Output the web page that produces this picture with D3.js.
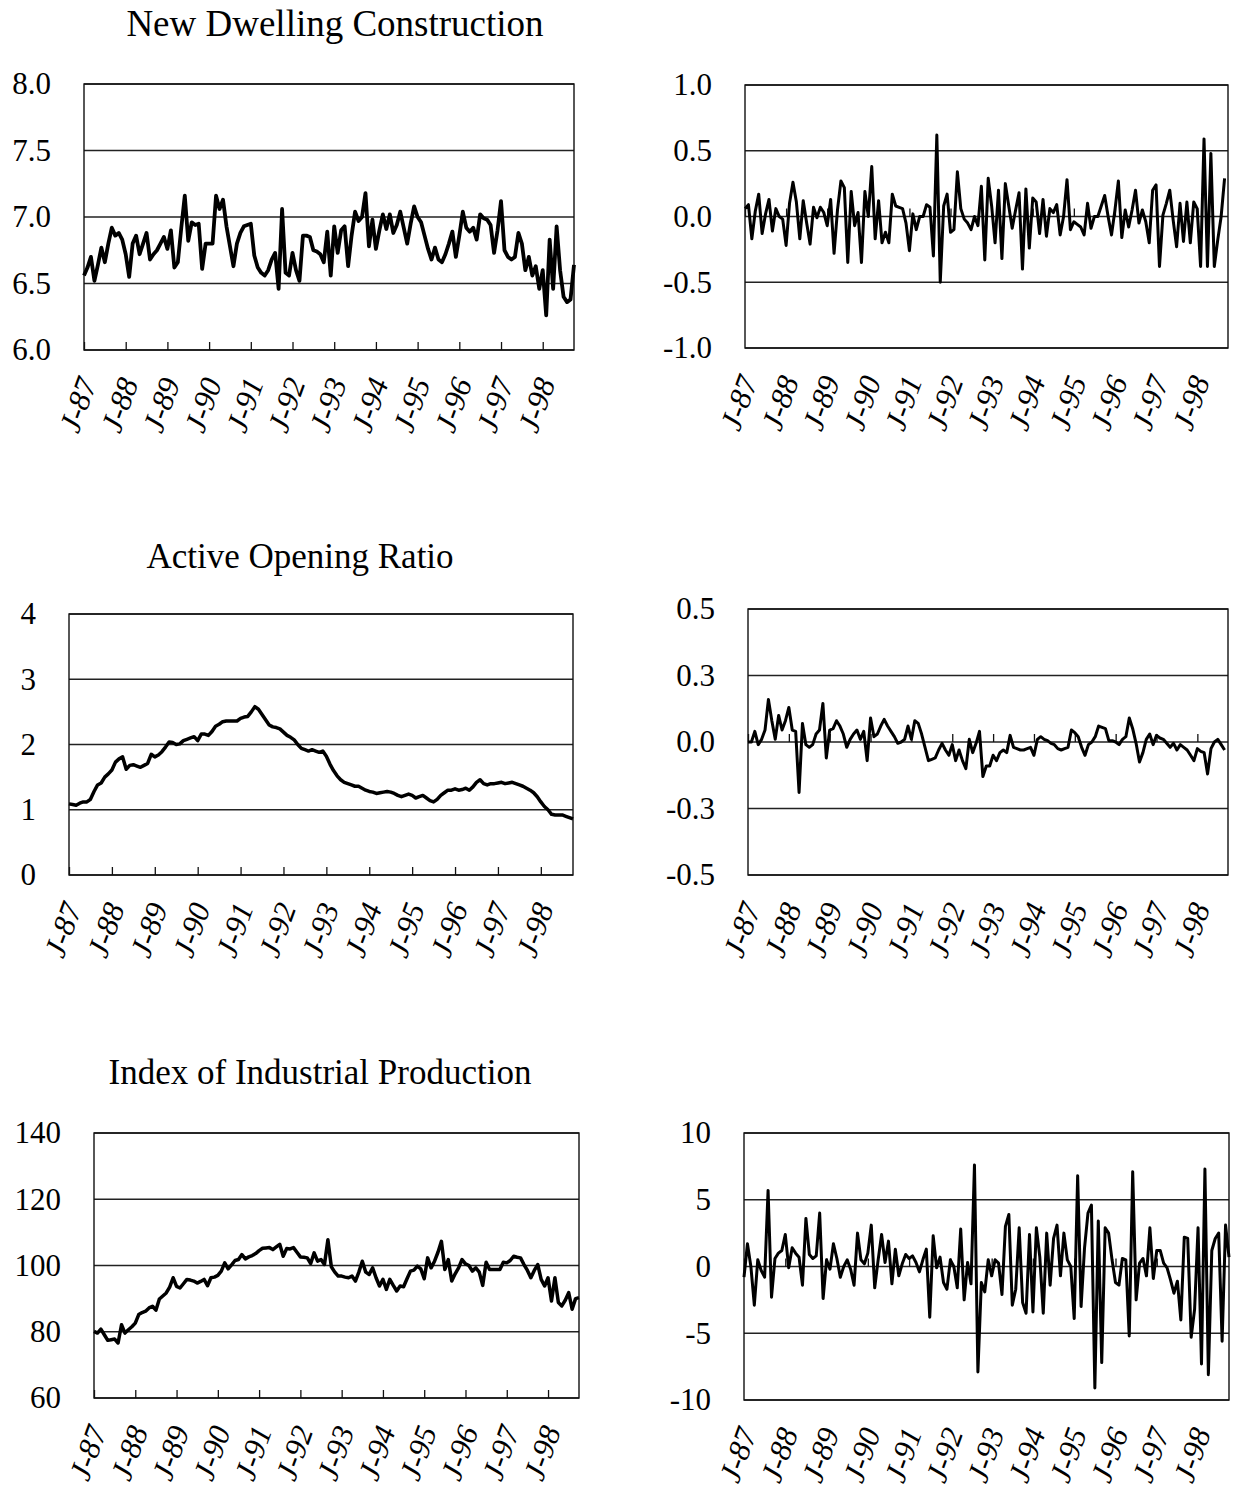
<!DOCTYPE html>
<html>
<head>
<meta charset="utf-8">
<script src="https://cdn.jsdelivr.net/npm/d3@7"></script>
<style>
  body { margin: 0; background: #fff; }
  text { font-family: "Liberation Serif", "Times New Roman", serif; fill: #000; }
</style>
</head>
<body>
<svg id="chart" width="1235" height="1490"></svg>
<script>
// January of each year, month index from Jan-87
const yearLabels = ["J-87", "J-88", "J-89", "J-90", "J-91", "J-92", "J-93", "J-94", "J-95", "J-96", "J-97", "J-98"];
const yearMonths = [0, 12, 24, 36, 48, 60, 72, 84, 96, 108, 120, 132];

// monthly series
const dwelling = [
  6.56, 6.62, 6.70, 6.52, 6.64, 6.77, 6.66, 6.80, 6.92, 6.86, 6.88, 6.83,
  6.72, 6.55, 6.80, 6.86, 6.72, 6.80, 6.88, 6.68, 6.72, 6.75, 6.80, 6.85,
  6.76, 6.90, 6.62, 6.66, 6.92, 7.16, 6.82, 6.96, 6.94, 6.95, 6.61, 6.80,
  6.80, 6.80, 7.16, 7.06, 7.13, 6.93, 6.78, 6.63, 6.80, 6.88, 6.93, 6.94,
  6.95, 6.71, 6.62, 6.58, 6.56, 6.60, 6.68, 6.73, 6.46, 7.06, 6.58, 6.56,
  6.73, 6.60, 6.52, 6.86, 6.86, 6.85, 6.75, 6.74, 6.72, 6.66, 6.89, 6.56,
  6.93, 6.73, 6.90, 6.93, 6.63, 6.86, 7.04, 6.97, 7.00, 7.18, 6.78, 6.98,
  6.76, 6.90, 7.02, 6.91, 7.02, 6.88, 6.94, 7.04, 6.92, 6.80, 6.95, 7.08,
  7.00, 6.96, 6.86, 6.76, 6.68, 6.77, 6.68, 6.66, 6.72, 6.80, 6.89, 6.70,
  6.86, 7.04, 6.92, 6.89, 6.92, 6.83, 7.02, 6.99, 6.98, 6.94, 6.73, 6.90,
  7.12, 6.75, 6.70, 6.68, 6.70, 6.88, 6.80, 6.60, 6.70, 6.56, 6.63, 6.46,
  6.60, 6.26, 6.83, 6.46, 6.93, 6.60, 6.40, 6.36, 6.38, 6.64
];
const dwellingChange = [
  0.06, 0.09, -0.17, 0.04, 0.17, -0.13, 0.02, 0.13, -0.11, 0.06, 0.00, -0.02,
  -0.22, 0.10, 0.26, 0.11, -0.17, 0.12, -0.05, -0.21, 0.07, -0.01, 0.07, 0.03,
  -0.07, 0.13, -0.28, 0.05, 0.27, 0.22, -0.35, 0.19, -0.07, 0.03, -0.35, 0.19,
  0.00, 0.38, -0.17, 0.12, -0.20, -0.12, -0.20, 0.17, 0.08, 0.07, 0.06, -0.05,
  -0.26, 0.02, -0.10, 0.00, 0.00, 0.09, 0.07, -0.30, 0.62, -0.50, 0.08, 0.17,
  -0.12, -0.10, 0.34, 0.06, -0.02, -0.05, -0.10, 0.00, -0.07, 0.23, -0.33, 0.29,
  0.08, -0.20, 0.20, -0.32, 0.25, 0.08, -0.09, 0.05, 0.18, -0.40, 0.21, -0.24,
  0.14, 0.11, -0.13, 0.13, -0.15, 0.06, 0.03, 0.09, -0.14, 0.00, 0.28, -0.10,
  -0.04, -0.06, -0.08, -0.14, 0.10, -0.09, 0.00, 0.00, 0.08, 0.16, 0.00, -0.14,
  0.05, 0.27, -0.16, 0.05, -0.08, 0.05, 0.20, -0.05, 0.05, -0.04, -0.20, 0.20,
  0.24, -0.38, 0.01, 0.10, 0.20, -0.03, -0.23, 0.10, -0.19, 0.11, -0.20, 0.11,
  0.06, -0.38, 0.59, -0.38, 0.48, -0.38, -0.18, 0.00, 0.29
];
const openingRatio = [
  1.09, 1.08, 1.07, 1.10, 1.12, 1.12, 1.16, 1.28, 1.38, 1.41, 1.50, 1.55,
  1.61, 1.73, 1.78, 1.81, 1.62, 1.68, 1.69, 1.67, 1.65, 1.68, 1.71, 1.85,
  1.81, 1.84, 1.89, 1.96, 2.04, 2.03, 2.00, 2.01, 2.06, 2.08, 2.10, 2.12,
  2.06, 2.16, 2.16, 2.14, 2.20, 2.28, 2.31, 2.35, 2.36, 2.36, 2.36, 2.36,
  2.40, 2.42, 2.43, 2.50, 2.58, 2.54, 2.46, 2.38, 2.30, 2.27, 2.26, 2.24,
  2.19, 2.14, 2.11, 2.07, 2.00, 1.94, 1.92, 1.90, 1.92, 1.90, 1.88, 1.90,
  1.82, 1.70, 1.60, 1.52, 1.46, 1.42, 1.40, 1.38, 1.36, 1.36, 1.33, 1.30,
  1.28, 1.27, 1.25, 1.26, 1.27, 1.28, 1.27, 1.25, 1.22, 1.20, 1.22, 1.24,
  1.22, 1.18, 1.20, 1.22, 1.18, 1.14, 1.12, 1.16, 1.22, 1.26, 1.30, 1.30,
  1.32, 1.30, 1.31, 1.33, 1.30, 1.35, 1.42, 1.46, 1.40, 1.38, 1.40, 1.40,
  1.41, 1.42, 1.40, 1.41, 1.42, 1.40, 1.38, 1.36, 1.33, 1.30, 1.26, 1.20,
  1.12, 1.05, 1.00, 0.93, 0.92, 0.92, 0.92, 0.90, 0.88, 0.86
];
const openingRatioChange = [
  0.00, 0.00, 0.04, -0.01, 0.01, 0.045, 0.16, 0.08, 0.01, 0.10, 0.045, 0.08,
  0.13, 0.045, 0.04, -0.19, 0.07, -0.01, -0.02, -0.01, 0.03, 0.045, 0.145, -0.06,
  0.045, 0.05, 0.08, 0.06, 0.03, -0.02, 0.01, 0.03, 0.045, 0.01, 0.04, -0.07,
  0.09, 0.02, 0.03, 0.06, 0.085, 0.06, 0.04, 0.02, -0.005, 0.00, 0.01, 0.06,
  0.01, 0.08, 0.07, 0.03, -0.02, -0.07, -0.065, -0.06, -0.03, -0.005, -0.03, -0.05,
  -0.01, -0.07, -0.03, -0.07, -0.10, 0.01, -0.04, -0.005, 0.04, -0.13, -0.09, -0.09,
  -0.05, -0.07, -0.04, -0.03, -0.04, 0.025, -0.02, -0.025, -0.03, -0.03, -0.025, -0.02,
  -0.05, 0.01, 0.02, 0.01, 0.005, -0.005, -0.01, -0.025, -0.03, -0.025, -0.02, 0.045,
  0.035, 0.02, -0.02, -0.05, -0.01, 0.00, 0.02, 0.06, 0.055, 0.05, 0.005, 0.005,
  0.00, -0.01, 0.01, 0.02, 0.09, 0.05, -0.005, -0.075, -0.04, 0.01, 0.03, -0.01,
  0.025, 0.015, 0.01, -0.005, -0.02, -0.005, -0.03, -0.01, -0.02, -0.03, -0.05, -0.07,
  -0.025, -0.035, -0.04, -0.12, -0.025, 0.00, 0.01, -0.01, -0.03
];
const industrial = [
  80.1, 79.6, 80.8, 79.1, 77.4, 77.6, 77.8, 76.6, 82.1, 79.6, 80.6, 81.5,
  82.6, 85.2, 85.8, 86.2, 87.2, 87.7, 86.5, 89.9, 90.8, 91.7, 93.5, 96.3,
  93.7, 93.2, 94.5, 95.8, 95.6, 95.3, 94.7, 95.2, 95.8, 93.9, 96.3, 96.5,
  97.0, 98.3, 100.8, 99.0, 100.2, 101.5, 101.8, 103.3, 102.0, 102.6, 103.0, 103.6,
  104.5, 105.2, 105.3, 105.4, 104.8, 105.6, 106.4, 102.8, 105.1, 105.0, 105.4, 104.0,
  102.6, 102.5, 102.3, 100.6, 103.8, 101.3, 101.8, 100.3, 107.8, 99.6, 98.0, 96.8,
  96.8, 96.5, 96.3, 96.8, 95.3, 98.0, 101.3, 98.0, 97.3, 99.3, 96.3, 93.8,
  95.8, 92.8, 95.8, 94.0, 92.3, 93.8, 93.6, 96.0, 98.3, 98.6, 99.8, 99.0,
  96.0, 102.3, 99.3, 101.3, 104.0, 107.3, 98.8, 101.8, 95.3, 97.5, 99.3, 101.8,
  100.5, 100.0, 98.3, 99.3, 98.0, 94.0, 101.0, 98.8, 98.8, 98.8, 98.8, 101.0,
  100.8, 101.5, 102.8, 102.5, 102.3, 100.3, 98.5, 96.3, 98.5, 100.3, 95.8, 93.8,
  96.3, 89.3, 96.3, 88.8, 87.8, 89.5, 91.8, 86.8, 90.0, 90.3
];
const industrialChange = [
  -0.8, 1.7, 0.0, -2.9, 0.5, -0.3, -0.8, 5.7, -2.3, 0.6, 1.0, 1.2,
  2.4, -0.1, 1.4, 1.0, 0.7, -1.4, 3.6, 0.9, 0.6, 0.8, 4.0, -2.4,
  0.5, -0.2, 1.7, 0.6, -0.8, 0.0, 0.5, -0.2, -1.4, 2.5, 0.5, 0.2,
  1.0, 3.1, -1.6, 0.5, 2.4, 0.3, 1.9, -1.3, 1.3, -0.7, 0.2, 0.9,
  0.6, 0.8, 0.3, -0.4, 0.5, 1.3, -3.8, 2.3, -0.1, 0.7, -1.2, -1.7,
  0.5, 0.0, -1.6, 2.8, -2.5, 0.3, -1.3, 7.6, -7.9, -1.2, -1.9, 0.5,
  -0.7, 0.5, 0.25, -2.1, 3.0, 3.9, -2.9, -1.7, 2.9, -2.7, -3.5, 2.4,
  -3.4, 2.9, 0.7, -3.5, 2.5, -1.4, 2.1, 3.1, -0.7, 2.5, 0.5, 0.0,
  -3.9, 6.8, -3.0, 1.4, 4.0, 4.6, -9.1, 3.4, -7.2, 2.9, 2.5, 0.5,
  -1.2, -1.4, 0.6, 0.5, -5.2, 7.1, -2.5, 0.25, 0.6, -0.7, 2.9, -0.9,
  1.2, 1.2, 0.25, -0.1, -1.0, -2.0, -1.1, -4.0, 2.2, 2.1, -5.3, -3.2,
  2.9, -7.3, 7.3, -8.1, 1.2, 2.1, 2.5, -5.6, 3.1, 0.7
];

// value-axis ticks and their printed labels
const dwellingTicks = [6, 6.5, 7, 7.5, 8];
const dwellingLabels = ["6.0", "6.5", "7.0", "7.5", "8.0"];
const dwellingChangeTicks = [-1, -0.5, 0, 0.5, 1];
const dwellingChangeLabels = ["-1.0", "-0.5", "0.0", "0.5", "1.0"];
const ratioTicks = [0, 1, 2, 3, 4];
const ratioLabels = ["0", "1", "2", "3", "4"];
const ratioChangeTicks = [-0.5, -0.25, 0, 0.25, 0.5];
const ratioChangeLabels = ["-0.5", "-0.3", "0.0", "0.3", "0.5"];
const industrialTicks = [60, 80, 100, 120, 140];
const industrialLabels = ["60", "80", "100", "120", "140"];
const industrialChangeTicks = [-10, -5, 0, 5, 10];
const industrialChangeLabels = ["-10", "-5", "0", "5", "10"];

const svg = d3.select("#chart");

const panels = [
  { title: "New Dwelling Construction", titleX: 335, titleY: 36, titleSize: 37, values: dwelling,
    ticks: dwellingTicks, labels: dwellingLabels, left: 84, right: 574, top: 84, bottom: 350, lineWidth: 3.8 },
  { values: dwellingChange, ticks: dwellingChangeTicks, labels: dwellingChangeLabels,
    left: 745, right: 1228, top: 85, bottom: 348, zeroAxis: true, lineWidth: 3 },
  { title: "Active Opening Ratio", titleX: 300, titleY: 568, titleSize: 35, values: openingRatio,
    ticks: ratioTicks, labels: ratioLabels, left: 69, right: 573, top: 614, bottom: 875, lineWidth: 3.5 },
  { values: openingRatioChange, ticks: ratioChangeTicks, labels: ratioChangeLabels,
    left: 748, right: 1228, top: 609, bottom: 875, zeroAxis: true, lineWidth: 3 },
  { title: "Index of Industrial Production", titleX: 320, titleY: 1084, titleSize: 35, values: industrial,
    ticks: industrialTicks, labels: industrialLabels, left: 94, right: 579, top: 1133, bottom: 1398, lineWidth: 3.5 },
  { values: industrialChange, ticks: industrialChangeTicks, labels: industrialChangeLabels,
    left: 744, right: 1229, top: 1133, bottom: 1400, zeroAxis: true, lineWidth: 3 }
];

function drawPanel(p) {
  const g = svg.append("g");
  const x = d3.scaleLinear().domain([0, 141]).range([p.left, p.right]);
  const y = d3.scaleLinear().domain(d3.extent(p.ticks)).range([p.bottom, p.top]);

  // horizontal gridlines
  g.append("g")
    .selectAll("line")
    .data(p.ticks)
    .join("line")
    .attr("x1", p.left).attr("x2", p.right)
    .attr("y1", d => y(d)).attr("y2", d => y(d))
    .attr("stroke", "#222").attr("stroke-width", 1.3);

  // plot frame
  g.append("rect")
    .attr("x", p.left).attr("y", p.top)
    .attr("width", p.right - p.left).attr("height", p.bottom - p.top)
    .attr("fill", "none").attr("stroke", "#111").attr("stroke-width", 1.4);

  // value labels
  const yAxis = g.append("g")
    .attr("transform", `translate(${p.left},0)`)
    .call(d3.axisLeft(y).tickValues(p.ticks).tickSize(0).tickPadding(33)
      .tickFormat((d, i) => p.labels[i]));
  yAxis.select(".domain").remove();
  yAxis.selectAll("text")
    .style("font-family", "'Liberation Serif', serif")
    .style("font-size", "31px")
    .attr("fill", "#000");

  // year tick marks (on the zero line for the change panels)
  const tickY = p.zeroAxis ? y(0) : p.bottom;
  const xAxis = g.append("g")
    .attr("transform", `translate(0,${tickY})`)
    .call(d3.axisBottom(x).tickValues(yearMonths).tickSize(-8).tickFormat(""));
  xAxis.select(".domain").remove();
  xAxis.selectAll("line").attr("stroke", "#111").attr("stroke-width", 1.3);

  // rotated year labels
  g.append("g")
    .selectAll("text")
    .data(yearMonths)
    .join("text")
    .attr("transform", d => `translate(${x(d) + 3},${p.bottom + 29}) rotate(-70)`)
    .attr("text-anchor", "end")
    .attr("dy", "0.35em")
    .style("font-style", "italic")
    .style("font-size", "31px")
    .text((d, i) => yearLabels[i]);

  // series line
  g.append("path")
    .datum(p.values)
    .attr("fill", "none")
    .attr("stroke", "#000")
    .attr("stroke-width", p.lineWidth)
    .attr("stroke-linejoin", "round")
    .attr("d", d3.line().x((d, i) => x(i)).y(d => y(d)));

  if (p.title) {
    svg.append("text")
      .attr("x", p.titleX).attr("y", p.titleY)
      .attr("text-anchor", "middle")
      .style("font-size", `${p.titleSize}px`)
      .text(p.title);
  }
}

panels.forEach(drawPanel);
</script>
</body>
</html>
